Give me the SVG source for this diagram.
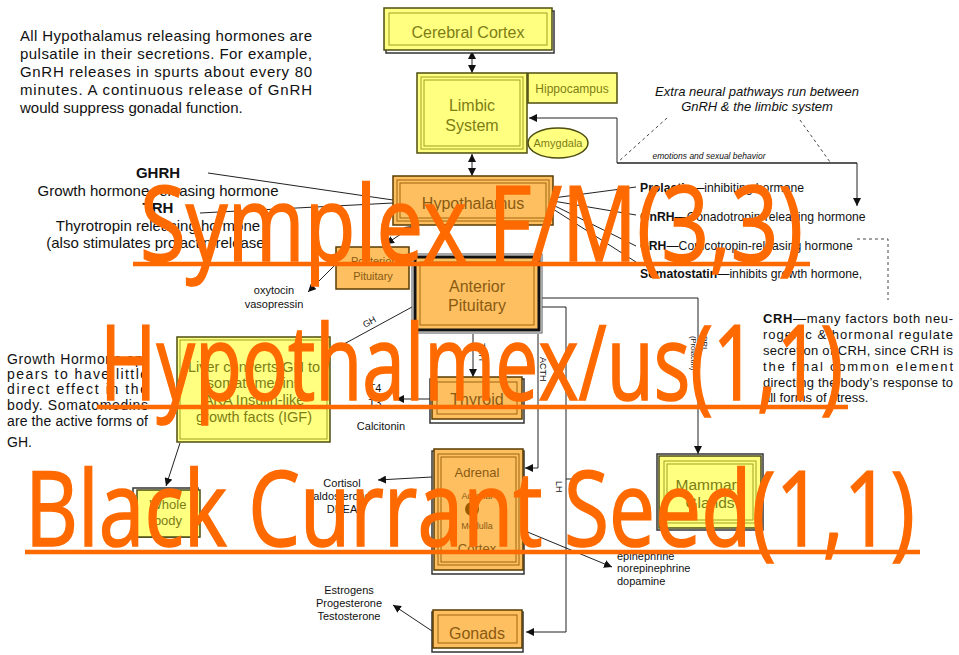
<svg xmlns="http://www.w3.org/2000/svg" width="959" height="655" viewBox="0 0 959 655">
<style>
text{font-family:"Liberation Sans",Arial,sans-serif}
.ybox{fill:#FFFF80;stroke:#4d4d10;stroke-width:1.5}
.yin{fill:none;stroke:#a0a020;stroke-width:1}
.obox{fill:#FDBF60;stroke:#5a3c00;stroke-width:1.5}
.oin{fill:none;stroke:#a0640a;stroke-width:1}
.shadow{fill:#fff;stroke:#333;stroke-width:1.5}
.yt{fill:#7d7d15;text-anchor:middle}
.ot{fill:#8a5a12;text-anchor:middle}
.lbl{fill:#111;font-size:11px;text-anchor:middle}
.lbs{fill:#111;font-size:11px;text-anchor:start}
.body{fill:#111}
.c{fill:none;stroke:#222;stroke-width:1}
.dash{fill:none;stroke:#444;stroke-width:1;stroke-dasharray:3 3}
.ov{fill:#FF6A00;stroke:#FF6A00;stroke-width:1.6;font-family:"Open Sans","DejaVu Sans",sans-serif;font-size:104px}
.ul{stroke:#FF6A00;stroke-width:4.5}
</style>
<defs>
<marker id="ah" viewBox="0 0 10 10" refX="10" refY="5" markerWidth="8" markerHeight="8" markerUnits="userSpaceOnUse" orient="auto-start-reverse">
<path d="M0,0 L10,5 L0,10 z" fill="#111"/>
</marker>
</defs>
<rect width="959" height="655" fill="#fff"/>

<g id="note-pulsatile" class="body" font-size="15">
<text x="20" y="41" textLength="292" lengthAdjust="spacing">All Hypothalamus releasing hormones are</text>
<text x="20" y="59" textLength="292" lengthAdjust="spacing">pulsatile in their secretions.  For example,</text>
<text x="20" y="77" textLength="292" lengthAdjust="spacing">GnRH releases in spurts about every 80</text>
<text x="20" y="95" textLength="292" lengthAdjust="spacing">minutes.  A continuous release of GnRH</text>
<text x="20" y="113">would suppress gonadal function.</text>
</g>

<g id="note-ghrh-trh" class="body" font-size="15" text-anchor="middle">
<text x="158" y="178" font-weight="bold">GHRH</text>
<text x="158" y="196">Growth hormone-releasing hormone</text>
<text x="158" y="213" font-weight="bold">TRH</text>
<text x="158" y="231">Thyrotropin releasing hormone</text>
<text x="158" y="248">(also stimulates prolactin release)</text>
</g>

<g id="note-extra" class="body" font-size="13" font-style="italic" text-anchor="middle">
<text x="757" y="96">Extra neural pathways run between</text>
<text x="757" y="111">GnRH &amp; the limbic system</text>
</g>
<text x="709" y="159" font-size="8.5" font-style="italic" text-anchor="middle" class="body">emotions and sexual behavior</text>

<g id="note-hypo-hormones" class="body" font-size="12.2">
<text x="640" y="192"><tspan font-weight="bold">Prolactin</tspan>—inhibiting hormone</text>
<text x="640" y="221"><tspan font-weight="bold">GnRH</tspan>—Gonadotropin-releasing hormone</text>
<text x="640" y="250"><tspan font-weight="bold">CRH</tspan>—Corticotropin-releasing hormone</text>
<text x="640" y="278"><tspan font-weight="bold">Somatostatin</tspan>—inhibits growth hormone,</text>
</g>

<g id="note-crh" class="body" font-size="13">
<text x="763" y="323" textLength="190" lengthAdjust="spacing"><tspan font-weight="bold">CRH</tspan>—many factors both   neu-</text>
<text x="763" y="339" textLength="190" lengthAdjust="spacing">rogenic &amp; hormonal  regulate</text>
<text x="763" y="355" textLength="190" lengthAdjust="spacing">secretion of CRH, since CRH is</text>
<text x="763" y="371" textLength="190" lengthAdjust="spacing">the final     common element</text>
<text x="763" y="387" textLength="190" lengthAdjust="spacing">directing the body’s response to</text>
<text x="763" y="402">all forms of stress.</text>
</g>

<g id="note-gh" class="body" font-size="14">
<text x="7" y="364" textLength="141" lengthAdjust="spacing">Growth Hormone ap-</text>
<text x="7" y="379" textLength="141" lengthAdjust="spacing">pears to have little</text>
<text x="7" y="394" textLength="141" lengthAdjust="spacing">direct effect in the</text>
<text x="7" y="410" textLength="141" lengthAdjust="spacing">body. Somatomedins</text>
<text x="7" y="426" textLength="141" lengthAdjust="spacing">are the active forms of</text>
<text x="7" y="447">GH.</text>
</g>

<g id="hormone-labels">
<text class="lbl" x="274" y="294">oxytocin</text>
<text class="lbl" x="274" y="308">vasopressin</text>
<text class="lbl" x="381" y="430">Calcitonin</text>
<text class="lbl" x="375" y="392">T4</text>
<text class="lbl" x="375" y="407">T3</text>
<text class="lbl" x="342" y="487">Cortisol</text>
<text class="lbl" x="342" y="500">aldosterone</text>
<text class="lbl" x="342" y="513">DHEA</text>
<text class="lbl" x="349" y="594">Estrogens</text>
<text class="lbl" x="349" y="607">Progesterone</text>
<text class="lbl" x="349" y="620">Testosterone</text>
<text class="lbs" x="617" y="560">epinephrine</text>
<text class="lbs" x="617" y="572">norepinephrine</text>
<text class="lbs" x="617" y="585">dopamine</text>
</g>

<g id="connectors">
<line class="c" x1="472" y1="51" x2="472" y2="73" marker-start="url(#ah)" marker-end="url(#ah)"/>
<line class="c" x1="472" y1="154" x2="472" y2="176" marker-start="url(#ah)" marker-end="url(#ah)"/>
<polyline class="c" points="857,163 617,163 617,118 529,118" marker-end="url(#ah)"/>
<polyline class="c" points="617,163 857,163 857,206" marker-end="url(#ah)"/>
<line class="dash" x1="667" y1="118" x2="618" y2="162"/>
<line class="dash" x1="800" y1="120" x2="830" y2="162"/>
<polyline class="dash" points="857,239 888,239 888,300"/>
<line class="c" x1="208" y1="173" x2="393" y2="200"/>
<line class="c" x1="200" y1="213" x2="393" y2="203"/>
<line class="c" x1="553" y1="198" x2="636" y2="187"/>
<line class="c" x1="553" y1="201" x2="636" y2="215"/>
<line class="c" x1="553" y1="205" x2="636" y2="246"/>
<line class="c" x1="553" y1="209" x2="636" y2="262"/>
<line class="c" x1="413" y1="226" x2="386" y2="244" marker-start="url(#ah)" marker-end="url(#ah)"/>
<line class="c" x1="334" y1="266" x2="308" y2="292" marker-end="url(#ah)"/>
<line class="c" x1="412" y1="307" x2="333" y2="350" marker-end="url(#ah)"/>
<text x="0" y="0" font-size="9" fill="#111" transform="translate(365,328) rotate(-29)">GH</text>
<line class="c" x1="473" y1="334" x2="473" y2="377" marker-end="url(#ah)"/>
<text x="0" y="0" font-size="9" fill="#111" transform="translate(479,343) rotate(90)">TSH</text>
<line class="c" x1="430" y1="399" x2="396" y2="399" marker-end="url(#ah)"/>
<polyline class="c" points="538,334 538,468 525,468" marker-end="url(#ah)"/>
<text x="0" y="0" font-size="9" fill="#111" transform="translate(540,357) rotate(90)">ACTH</text>
<polyline class="c" points="542,307 566,307 566,632 526,632" marker-end="url(#ah)"/>
<polyline class="c" points="566,479 574,479"/>
<text x="0" y="0" font-size="9" fill="#111" transform="translate(556,481) rotate(90)">LH</text>
<polyline class="c" points="542,298 698,298 698,454" marker-end="url(#ah)"/>
<text x="0" y="0" font-size="8" fill="#111" transform="translate(702,336) rotate(90)">PRL</text>
<text x="0" y="0" font-size="7.5" fill="#111" transform="translate(691,336) rotate(90)">(Prolactin)</text>
<line class="c" x1="180" y1="443" x2="166" y2="486" marker-end="url(#ah)"/>
<line class="c" x1="432" y1="477" x2="378" y2="480" marker-end="url(#ah)"/>
<line class="c" x1="472" y1="509" x2="612" y2="567" marker-end="url(#ah)"/>
<line class="c" x1="432" y1="631" x2="393" y2="605" marker-end="url(#ah)"/>
</g>

<g id="cerebral-cortex">
<rect x="386" y="11" width="168" height="42" class="shadow"/>
<rect x="384" y="8" width="168" height="42" class="ybox"/>
<rect x="389" y="13" width="158" height="32" class="yin"/>
<text class="yt" x="468" y="38" font-size="16">Cerebral Cortex</text>
</g>

<g id="limbic-system">
<rect x="417" y="73" width="110" height="80" class="ybox"/>
<rect x="421" y="77" width="102" height="72" class="yin"/>
<rect x="424" y="80" width="96" height="66" class="yin"/>
<text class="yt" x="472" y="111" font-size="16">Limbic</text>
<text class="yt" x="472" y="131" font-size="16">System</text>
</g>

<g id="hippocampus">
<rect x="528" y="73" width="89" height="30" class="ybox"/>
<text class="yt" x="572" y="93" font-size="12">Hippocampus</text>
</g>

<g id="amygdala">
<ellipse cx="558" cy="143" rx="30" ry="15" class="ybox"/>
<text class="yt" x="558" y="147" font-size="11">Amygdala</text>
</g>

<g id="hypothalamus">
<rect x="393" y="176" width="160" height="49" class="obox"/>
<rect x="397" y="180" width="152" height="41" class="oin"/>
<rect x="400" y="183" width="146" height="35" class="oin"/>
<text class="ot" x="473" y="209" font-size="16">Hypothalamus</text>
</g>

<g id="posterior-pituitary">
<rect x="336" y="247" width="73" height="42" class="obox"/>
<text class="ot" x="373" y="265" font-size="11">Posterior</text>
<text class="ot" x="373" y="280" font-size="11">Pituitary</text>
</g>

<g id="anterior-pituitary">
<rect x="412" y="254" width="130" height="79" fill="#fff" stroke="#555" stroke-width="1"/>
<rect x="415" y="257" width="124" height="73" fill="#FDBF60" stroke="#111" stroke-width="3"/>
<rect x="420" y="262" width="114" height="63" class="oin"/>
<text class="ot" x="477" y="292" font-size="16">Anterior</text>
<text class="ot" x="477" y="311" font-size="16">Pituitary</text>
</g>

<g id="liver">
<rect x="177" y="337" width="153" height="105" class="ybox"/>
<rect x="180" y="340" width="147" height="99" class="yin"/>
<g class="yt" font-size="14.5">
<text x="254" y="372">Liver converts GH to</text>
<text x="254" y="388">somatomedins</text>
<text x="254" y="405">AKA Insulin-like</text>
<text x="254" y="422">growth facts (IGF)</text>
</g>
</g>

<g id="thyroid">
<rect x="430" y="379" width="94" height="44" class="shadow"/>
<rect x="432" y="377" width="90" height="42" class="obox"/>
<rect x="437" y="382" width="80" height="32" class="oin"/>
<text class="ot" x="477" y="405" font-size="16">Thyroid</text>
</g>

<g id="whole-body">
<rect x="133" y="488" width="65" height="49" class="shadow"/>
<rect x="137" y="490" width="63" height="47" class="ybox"/>
<text class="yt" x="168" y="509" font-size="13">Whole</text>
<text class="yt" x="168" y="525" font-size="13">body</text>
</g>

<g id="adrenal">
<rect x="432" y="451" width="92" height="123" class="shadow"/>
<rect x="434" y="449" width="89" height="121" class="obox"/>
<rect x="438" y="454" width="81" height="111" class="oin"/>
<rect x="441" y="457" width="75" height="105" class="oin"/>
<text class="ot" x="477" y="477" font-size="13">Adrenal</text>
<text class="ot" x="477" y="499" font-size="9">Adrenal</text>
<circle cx="472" cy="509" r="7" fill="#9a5a00"/>
<text class="ot" x="477" y="529" font-size="9">Medulla</text>
<text class="ot" x="477" y="553" font-size="13">Cortex</text>
</g>

<g id="mammary-glands">
<rect x="657" y="454" width="106" height="76" fill="#fff" stroke="#333" stroke-width="1.5"/>
<rect x="659" y="456" width="102" height="72" class="ybox"/>
<rect x="664" y="461" width="92" height="62" class="yin"/>
<rect x="667" y="464" width="86" height="56" class="yin"/>
<text class="yt" x="710" y="490" font-size="15.5">Mammary</text>
<text class="yt" x="710" y="508" font-size="15.5">Glands</text>
</g>

<g id="gonads">
<rect x="432" y="612" width="91" height="40" class="shadow"/>
<rect x="433" y="610" width="89" height="38" class="obox"/>
<rect x="438" y="615" width="79" height="28" class="oin"/>
<text class="ot" x="477" y="639" font-size="16">Gonads</text>
</g>

<g id="overlay">
<text class="ov" x="140" y="261" textLength="663" lengthAdjust="spacingAndGlyphs">Symplex F/M(3,3)</text>
<line class="ul" x1="133" y1="264" x2="810" y2="264"/>
<text class="ov" x="100" y="400" textLength="743" lengthAdjust="spacingAndGlyphs">Hypothalmex/us(1,1)</text>
<line class="ul" x1="97" y1="407" x2="848" y2="407"/>
<text class="ov" x="25" y="546" textLength="890" lengthAdjust="spacingAndGlyphs">Black Currant Seed(1,1)</text>
<line class="ul" x1="25" y1="552" x2="920" y2="552"/>
</g>
</svg>
